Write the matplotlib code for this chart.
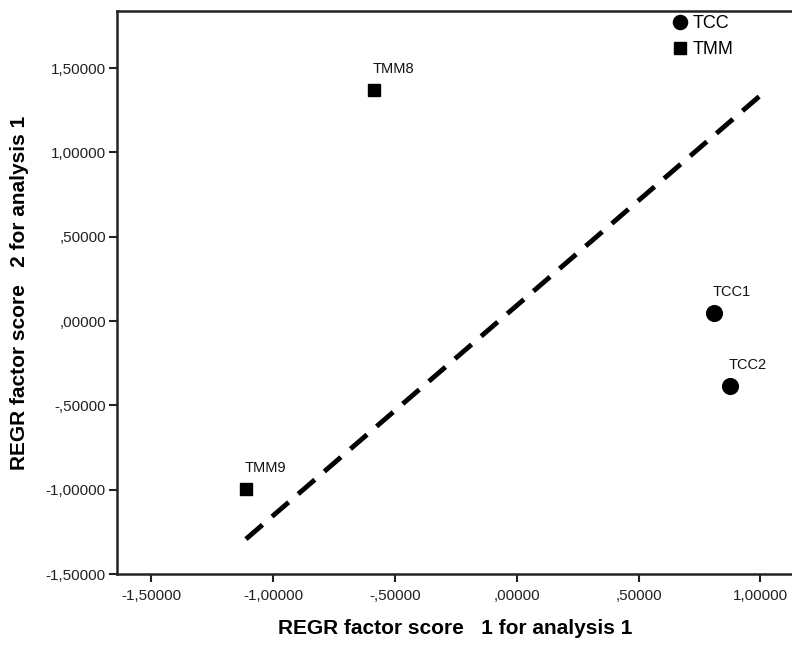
import matplotlib
matplotlib.use("Agg")
import matplotlib.pyplot as plt
from matplotlib.ticker import FuncFormatter, FixedLocator

plt.rcParams['font.family'] = ['Liberation Sans', 'DejaVu Sans']

# Factor scores per case
tcc_names = ["TCC1", "TCC2"]
tcc_x = [0.810, 0.876]
tcc_y = [0.047, -0.386]

tmm_names = ["TMM8", "TMM9"]
tmm_x = [-0.586, -1.111]
tmm_y = [1.370, -0.997]

# Reference line endpoints
line_x = [-1.111, 1.007]
line_y = [-1.293, 1.346]

x_ticks = [-1.5, -1.0, -0.5, 0.0, 0.5, 1.0]
y_ticks = [-1.5, -1.0, -0.5, 0.0, 0.5, 1.0, 1.5]


def spss_fmt(v, pos=None):
    s = f"{abs(v):.5f}".replace(".", ",")
    if s.startswith("0,"):
        s = s[1:]
    return ("-" if v < -1e-12 else "") + s


fig = plt.figure(figsize=(7.92, 6.45), dpi=100)
ax = fig.add_axes([117 / 792, 1 - 574 / 645, (794 - 117) / 792, (574 - 11) / 645])

ax.plot(line_x, line_y, color="black", lw=3.5, dashes=(4.5, 2.6), solid_capstyle="butt",
        dash_capstyle="butt", zorder=2)

ax.plot(tcc_x, tcc_y, "o", color="black", ms=11.3, ls="none", label="TCC", zorder=3)
ax.plot(tmm_x, tmm_y, "s", color="black", ms=9.2, ls="none", label="TMM", zorder=3)

for n, x, y in zip(tcc_names + tmm_names, tcc_x + tmm_x, tcc_y + tmm_y):
    ax.annotate(n, (x, y), xytext=(-1, 10), textcoords="offset points",
                fontsize=10.5, ha="left", va="bottom", color="#111111")

ax.set_xlim(-1.640, 1.138)
ax.set_ylim(-1.5, 1.838)
ax.xaxis.set_major_locator(FixedLocator(x_ticks))
ax.yaxis.set_major_locator(FixedLocator(y_ticks))
ax.xaxis.set_major_formatter(FuncFormatter(spss_fmt))
ax.yaxis.set_major_formatter(FuncFormatter(spss_fmt))
ax.tick_params(direction="out", length=6, width=1.5, labelsize=11, colors="#222222",
               labelcolor="#222222")
ax.tick_params(axis="x", pad=5)
ax.tick_params(axis="y", pad=2)

for sp in ax.spines.values():
    sp.set_linewidth(1.8)
    sp.set_color("#222222")

ax.set_xlabel("REGR factor score   1 for analysis 1", fontsize=15, fontweight="bold",
              labelpad=11)
ax.set_ylabel("REGR factor score   2 for analysis 1", fontsize=15, fontweight="bold",
              labelpad=12)

leg = ax.legend(loc="upper left", bbox_to_anchor=(666 / 792, 1 - 10 / 645),
                bbox_transform=fig.transFigure, frameon=False,
                fontsize=13, handletextpad=0.2, labelspacing=0.5, borderaxespad=0.0,
                handlelength=1.0, markerscale=0.9, borderpad=0.3)

fig.savefig("out.png", dpi=100, facecolor="white")
